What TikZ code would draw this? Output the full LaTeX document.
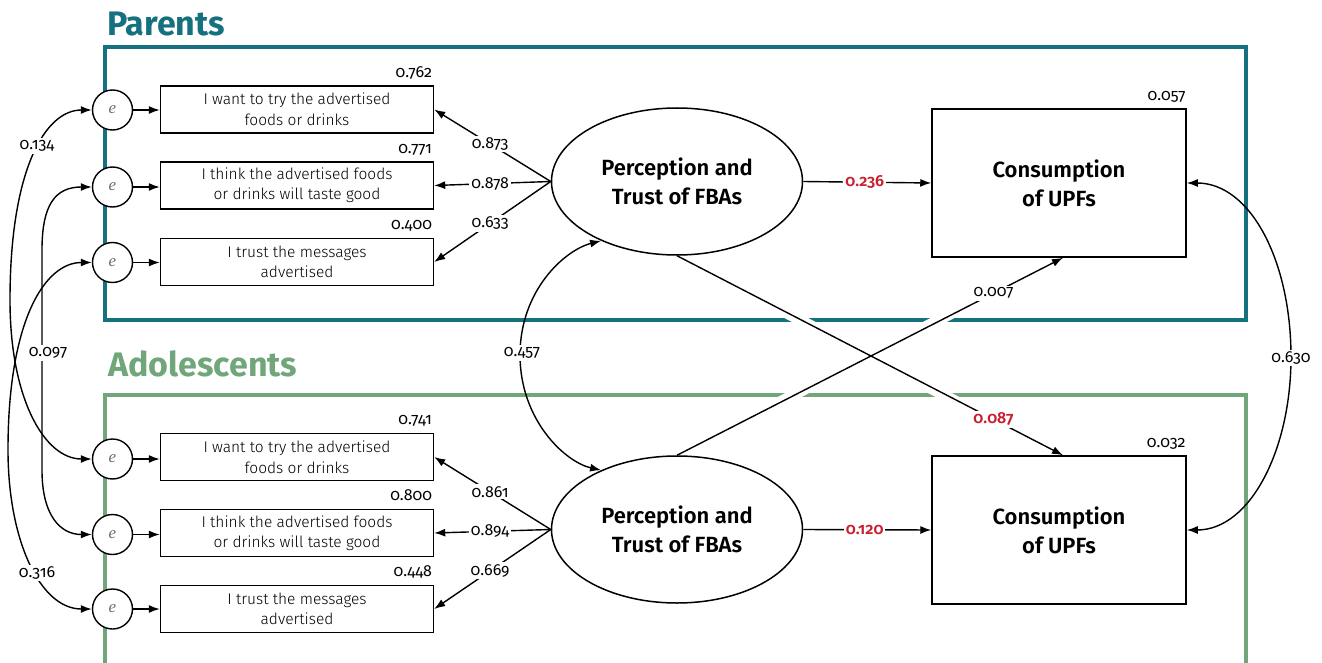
\documentclass[tikz,border=0pt]{standalone}
\usepackage{fontspec}
\setmainfont{Fira Sans}[UprightFont=* Light, BoldFont=* SemiBold, Numbers=OldStyle]
\newfontfamily\titlefont{Fira Sans}[UprightFont=* Bold]
\newfontfamily\numfont{Fira Sans}[Numbers=OldStyle]
\newfontfamily\efont{Liberation Serif}
\usetikzlibrary{arrows.meta,backgrounds,shapes.geometric}
\definecolor{teal1}{RGB}{21,112,128}
\definecolor{green1}{RGB}{112,166,122}
\definecolor{red1}{RGB}{200,32,48}
\definecolor{egray}{RGB}{110,110,110}
\begin{document}
\begin{tikzpicture}[x=1pt,y=-1pt,
  >={Latex[length=11pt,width=8pt]},
  item/.style={draw, line width=1.4pt, minimum width=273pt, minimum height=47pt, align=center, font=\fontsize{15.5}{20.5}\selectfont, inner sep=0pt},
  errc/.style={circle, draw, fill=white, line width=1.4pt, minimum size=40pt, inner sep=0pt, font=\efont\itshape\fontsize{17}{17}\selectfont\color{egray}},
  latent/.style={ellipse, draw, line width=1.5pt, minimum width=251pt, minimum height=147pt, align=center, font=\bfseries\fontsize{22}{29}\selectfont, inner sep=0pt},
  outc/.style={draw, line width=1.5pt, minimum width=254pt, minimum height=148pt, align=center, font=\bfseries\fontsize{22}{29}\selectfont, inner sep=0pt},
  conn/.style={line width=1.4pt},
  lab/.style={fill=white, inner sep=2pt, font=\numfont\fontsize{16}{16}\selectfont},
  rlab/.style={fill=white, inner sep=2pt, font=\bfseries\fontsize{16}{16}\selectfont, text=red1},
  rsq/.style={anchor=base east, inner sep=0pt, font=\numfont\fontsize{16}{16}\selectfont},
  titlet/.style={font=\titlefont\fontsize{34}{34}\selectfont, anchor=base west, inner sep=0pt},
  ]
\useasboundingbox (0,0) rectangle (1322,663);

% titles
\node[titlet, text=teal1] (tpar) at (107,36) {Parents};
\node[titlet, text=green1] (tado) at (108,376) {Adolescents};

% indicator boxes
\node[item] (pi1) at (297,109.5) {I want to try the advertised\\foods or drinks};
\node[item] (pi2) at (297,185.5) {I think the advertised foods\\or drinks will taste good};
\node[item] (pi3) at (297,262) {I trust the messages\\advertised};
\node[item] (ai1) at (297,457) {I want to try the advertised\\foods or drinks};
\node[item] (ai2) at (297,533) {I think the advertised foods\\or drinks will taste good};
\node[item] (ai3) at (297,609) {I trust the messages\\advertised};

% error circles
\node[errc] (pe1) at (112.5,110) {e};
\node[errc] (pe2) at (112.5,187) {e};
\node[errc] (pe3) at (112.5,262.5) {e};
\node[errc] (ae1) at (112.5,459) {e};
\node[errc] (ae2) at (112.5,534.5) {e};
\node[errc] (ae3) at (112.5,609) {e};

% latent and outcome
\node[latent] (pe) at (677,181.5) {Perception and\\Trust of FBAs};
\node[latent] (ae) at (677,529.5) {Perception and\\Trust of FBAs};
\node[outc] (pc) at (1059,183) {Consumption\\of UPFs};
\node[outc] (ac) at (1059,530) {Consumption\\of UPFs};

% R-squared
\node[rsq] (r1) at ([xshift=-2pt,yshift=8pt]pi1.north east) {0.762};
\node[rsq] (r2) at ([xshift=-2pt,yshift=8pt]pi2.north east) {0.771};
\node[rsq] (r3) at ([xshift=-2pt,yshift=8pt]pi3.north east) {0.400};
\node[rsq] (r4) at ([xshift=-2pt,yshift=8pt]ai1.north east) {0.741};
\node[rsq] (r5) at ([xshift=-2pt,yshift=8pt]ai2.north east) {0.800};
\node[rsq] (r6) at ([xshift=-2pt,yshift=8pt]ai3.north east) {0.448};
\node[rsq] (r7) at ([xshift=-1pt,yshift=8pt]pc.north east) {0.057};
\node[rsq] (r8) at ([xshift=-1pt,yshift=8pt]ac.north east) {0.032};

% frames and gaps
\begin{scope}[on background layer]
  \draw[teal1, line width=4.5pt] (105,47) rectangle (1246,320);
  \draw[green1, line width=4.5pt] (105,663) -- (105,395) -- (1246,395) -- (1246,663);
  \draw[white, line width=11pt] (pe.south) -- (ac.north);
  \draw[white, line width=11pt] (ae.north) -- (pc.south);
\end{scope}

% error arrows
\foreach \e/\i in {pe1/pi1,pe2/pi2,pe3/pi3,ae1/ai1,ae2/ai2,ae3/ai3}
  \draw[conn,->] (\e.east) -- (\e.east -| \i.west);

% loadings
\draw[conn,->] (pe.west) -- node[lab,pos=0.52]{0.873} (pi1.east);
\draw[conn,->] (pe.west) -- node[lab,pos=0.52]{0.878} (pi2.east);
\draw[conn,->] (pe.west) -- node[lab,pos=0.52]{0.633} (pi3.east);
\draw[conn,->] (ae.west) -- node[lab,pos=0.52]{0.861} (ai1.east);
\draw[conn,->] (ae.west) -- node[lab,pos=0.52]{0.894} (ai2.east);
\draw[conn,->] (ae.west) -- node[lab,pos=0.52]{0.669} (ai3.east);

% structural paths
\draw[conn,->] (pe.east) -- node[rlab,pos=0.48]{0.236} (pc.west);
\draw[conn,->] (ae.east) -- node[rlab,pos=0.48]{0.120} (ac.west);
\draw[conn,->] (pe.south) -- node[rlab,pos=0.82]{0.087} ([xshift=4pt]ac.north);
\draw[conn,->] (ae.north) -- node[lab,pos=0.82]{0.007} ([xshift=4pt]pc.south);

% covariances
\draw[conn,<->] (pe1.west) .. controls (45,110) and (10,170) .. (10,300) .. controls (10,400) and (45,459) .. (ae1.west);
\draw[conn,<->] (pe2.west) .. controls (55,187) and (42,205) .. (42,250) -- (42,470) .. controls (42,515) and (60,534.5) .. (ae2.west);
\draw[conn,<->] (pe3.west) .. controls (45,262.5) and (8,320) .. (8,450) .. controls (8,540) and (40,609) .. (ae3.west);
\draw[conn,<->] (pe.218) .. controls (565,250) and (520,290) .. (520,355) .. controls (520,420) and (565,462) .. (ae.142);
\draw[conn,<->] (pc.east) .. controls (1250,183) and (1291,260) .. (1291,357) .. controls (1291,450) and (1250,530) .. (ac.east);

\node[lab] (c134) at (37,146) {0.134};
\node[lab] (c097) at (48,353) {0.097};
\node[lab] (c316) at (37,573) {0.316};
\node[lab] (c457) at (522,353) {0.457};
\node[lab] (c630) at (1291,358) {0.630};
\end{tikzpicture}
\end{document}
